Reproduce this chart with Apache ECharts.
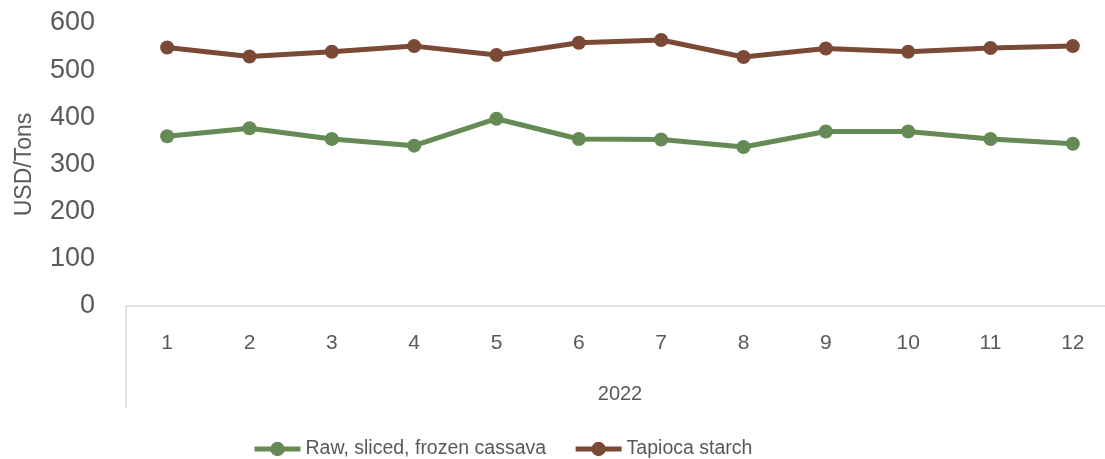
<!DOCTYPE html>
<html>
<head>
<meta charset="utf-8">
<script src="https://cdn.jsdelivr.net/npm/echarts@6/dist/echarts.min.js"></script>
<style>html,body{margin:0;padding:0;background:#fff;overflow:hidden;width:1105px;height:459px}#c{width:1120px;height:459px}</style>
</head>
<body>
<div id="c"></div>
<script>
const categories = ['1','2','3','4','5','6','7','8','9','10','11','12'];
const groupLabel = '2022';
const cassava = [360, 377, 354, 340, 397, 354, 353, 337, 370, 370, 354, 344];
const tapioca = [548, 529, 539, 551, 532, 558, 564, 528, 546, 539, 547, 551];
const seriesNames = ['Raw, sliced, frozen cassava', 'Tapioca starch'];
const yTicks = [0, 100, 200, 300, 400, 500, 600];

const font = '"Liberation Sans", "DejaVu Sans", sans-serif';
const txt = '#595959';
const chart = echarts.init(document.getElementById('c'));
chart.setOption({
  animation: false,
  grid: { left: 126, right: 6, top: 23, height: 283 },
  legend: {
    left: 252, top: 439, padding: 0,
    itemWidth: 46, itemHeight: 18, itemGap: 27,
    lineStyle: { width: 5 },
    textStyle: { color: txt, fontSize: 19.5, fontFamily: font }
  },
  xAxis: {
    type: 'category', data: categories, boundaryGap: true,
    name: groupLabel, nameLocation: 'middle', nameGap: 78,
    nameTextStyle: { color: txt, fontSize: 20, fontFamily: font },
    axisLine: { lineStyle: { color: '#d9d9d9', width: 1.5 } },
    axisTick: { show: true, length: 102, interval: (i) => i === 0, lineStyle: { color: '#d9d9d9', width: 1.5 } },
    axisLabel: { color: txt, fontSize: 21, fontFamily: font, margin: 27 }
  },
  yAxis: {
    type: 'value', min: yTicks[0], max: yTicks[yTicks.length - 1], interval: 100,
    name: 'USD/Tons', nameLocation: 'middle', nameGap: 90, nameRotate: 90,
    nameTextStyle: { color: txt, fontSize: 23, fontFamily: font },
    axisLine: { show: false }, axisTick: { show: false }, splitLine: { show: false },
    axisLabel: { color: txt, fontSize: 27, fontFamily: font, margin: 31 }
  },
  series: [
    { name: seriesNames[0], type: 'line', data: cassava, symbol: 'circle', symbolSize: 14,
      itemStyle: { color: '#658a55' }, lineStyle: { width: 5, color: '#658a55' } },
    { name: seriesNames[1], type: 'line', data: tapioca, symbol: 'circle', symbolSize: 14,
      itemStyle: { color: '#7a4a36' }, lineStyle: { width: 5, color: '#7a4a36' } }
  ]
});
</script>
</body>
</html>
